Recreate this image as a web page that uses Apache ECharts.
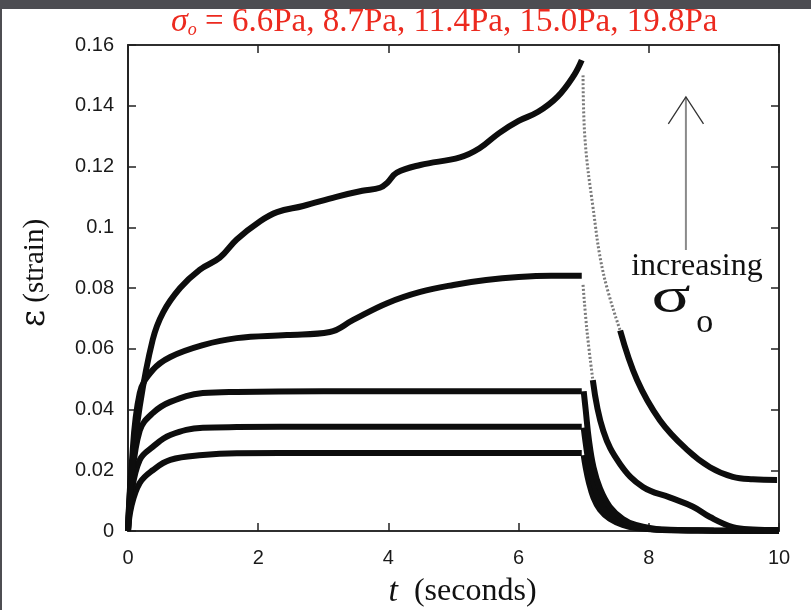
<!DOCTYPE html>
<html><head><meta charset="utf-8">
<script src="https://cdn.jsdelivr.net/npm/echarts@6/dist/echarts.min.js"></script>
<style>html,body{margin:0;padding:0;background:#fff;}#c{width:811px;height:610px;}</style>
</head><body><div id="c"></div>
<script>
// ---- data ----
const xTicks = [0, 2, 4, 6, 8, 10];
const yTicks = [0, 0.02, 0.04, 0.06, 0.08, 0.1, 0.12, 0.14, 0.16];
const stressLabels = ['6.6Pa', '8.7Pa', '11.4Pa', '15.0Pa', '19.8Pa'];

// creep phase (0 - 7 s)
const tCreep5 = [0,0.05,0.18,0.38,0.54,0.8,1.1,1.41,1.67,2.03,2.29,2.69,3.2,3.6,3.87,3.98,4.13,4.49,5.1,5.4,5.7,6.0,6.3,6.6,6.85,6.97];
const eCreep5 = [0,0.018,0.041,0.063,0.072,0.080,0.086,0.090,0.096,0.102,0.105,0.107,0.110,0.112,0.113,0.1146,0.118,0.1205,0.123,0.126,0.131,0.135,0.138,0.143,0.150,0.155];
const tCreep4 = [0,0.05,0.18,0.38,0.65,1.15,1.67,2.44,3.1,3.46,3.98,4.49,5.0,5.5,6.0,6.5,6.97];
const eCreep4 = [0,0.02,0.0454,0.053,0.0573,0.0612,0.0635,0.0645,0.0655,0.0695,0.075,0.0787,0.081,0.0826,0.0836,0.084,0.084];
const tCreepLow = [0,0.05,0.18,0.38,0.65,1.15,1.67,3,5,6.97];
const eCreep3 = [0,0.015,0.033,0.0388,0.0425,0.0454,0.0458,0.046,0.046,0.046];
const eCreep2 = [0,0.012,0.0234,0.0277,0.0316,0.034,0.0342,0.0343,0.0343,0.0343];
const eCreep1 = [0,0.008,0.0158,0.020,0.0234,0.025,0.0256,0.0257,0.0257,0.0257];

// recovery phase (7 - 10 s)
const tRecFast5 = [6.99,7.02,7.14,7.3,7.56];
const eRecFast5 = [0.150,0.129,0.107,0.085,0.066];
const tRec5 = [7.56,7.82,8.17,8.59,8.94,9.29,9.6,9.97];
const eRec5 = [0.066,0.0497,0.0365,0.0267,0.021,0.0178,0.017,0.0168];
const tRecFast4 = [6.99,7.05,7.14];
const eRecFast4 = [0.081,0.066,0.0497];
const tRec4 = [7.14,7.3,7.56,7.91,8.33,8.68,8.94,9.29,9.6,10];
const eRec4 = [0.0497,0.033,0.022,0.0145,0.011,0.008,0.0046,0.0013,0.0005,0.0003];
const tRecLow = [7.0,7.03,7.08,7.15,7.25,7.4,7.6,7.8,8.2,9,10];
const eRec3 = [0.046,0.040,0.030,0.021,0.014,0.008,0.004,0.002,0.0005,0.0002,0];
const eRec2 = [0.034,0.029,0.022,0.016,0.010,0.006,0.003,0.0015,0.0003,0.0001,0];
const eRec1 = [0.025,0.021,0.016,0.011,0.007,0.004,0.002,0.001,0.0004,0.0001,0];

// ---- build ----
const zip = (a, b) => a.map((v, i) => [v, b[i]]);
const solid = (t, e) => ({
  type: 'line', data: zip(t, e), smooth: 0.4, showSymbol: false, clip: false,
  lineStyle: { color: '#0d0d0d', width: 6 }, silent: true, z: 3
});
const dotted = (t, e) => ({
  type: 'line', data: zip(t, e), smooth: 0.4, showSymbol: false, clip: false,
  lineStyle: { color: '#7a7a7a', width: 3, type: [2, 2] }, silent: true, z: 3
});

const serif = '"Liberation Serif","Times New Roman",serif';
const sans = '"Liberation Sans",Arial,Helvetica,sans-serif';
const ink = '#222';

function axisBase(extra) {
  return Object.assign({
    type: 'value',
    axisLine: { show: true, onZero: false, lineStyle: { color: ink, width: 1.5 } },
    axisTick: { show: true, inside: true, length: 8, lineStyle: { color: ink, width: 1.5 } },
    splitLine: { show: false }
  }, extra);
}

const chart = echarts.init(document.getElementById('c'), null, { renderer: 'canvas' });
chart.setOption({
  backgroundColor: '#ffffff',
  animation: false,
  title: {
    text: '{s|σ}{o|o}{n| = ' + stressLabels.join(', ') + '}',
    left: 166, top: 0,
    textStyle: {
      fontWeight: 'normal',
      rich: {
        s: { fontFamily: serif, fontStyle: 'italic', fontWeight: 'normal', fontSize: 34, color: '#ec2a1f' },
        o: { fontFamily: serif, fontStyle: 'italic', fontWeight: 'normal', fontSize: 18, color: '#ec2a1f', padding: [16, 0, 0, 0] },
        n: { fontFamily: serif, fontWeight: 'normal', fontSize: 33, color: '#ec2a1f' }
      }
    }
  },
  grid: { left: 128, right: 32, top: 45, bottom: 79, containLabel: false, outerBoundsMode: 'none',
          show: true, borderColor: ink, borderWidth: 1.5, backgroundColor: 'transparent' },
  xAxis: [
    axisBase({
      min: 0, max: 10, interval: 2, position: 'bottom',
      axisLabel: { fontFamily: sans, fontSize: 20, color: '#1a1a1a', margin: 17 },
      name: '{t|t}{s|  (seconds)}', nameLocation: 'middle', nameGap: 44,
      nameTextStyle: { padding: [0, 0, 0, 18], rich: {
        t: { fontFamily: serif, fontStyle: 'italic', fontSize: 34, color: '#111' },
        s: { fontFamily: serif, fontSize: 32, color: '#111' }
      } }
    }),
    axisBase({ min: 0, max: 10, interval: 2, position: 'top', axisLabel: { show: false } })
  ],
  yAxis: [
    axisBase({
      min: 0, max: 0.16, interval: 0.02, position: 'left',
      axisTick: { show: false },
      axisLabel: { fontFamily: sans, fontSize: 20, color: '#1a1a1a', margin: 14,
        formatter: v => String(+v.toFixed(2)) },
      name: '{e|ε}{s| (strain)}', nameLocation: 'middle', nameGap: 76, nameRotate: 90,
      nameTextStyle: { padding: [0, 0, 0, 30], rich: {
        e: { fontFamily: '"DejaVu Serif",serif', fontSize: 33, color: '#111' },
        s: { fontFamily: serif, fontSize: 29, color: '#111' }
      } }
    }),
    axisBase({ min: 0, max: 0.16, interval: 0.02, position: 'right', axisLabel: { show: false } }),
    axisBase({ min: 0, max: 0.16, interval: 0.02, position: 'left', offset: 0, axisLabel: { show: false },
      axisTick: { show: true, inside: false, length: -8, lineStyle: { color: ink, width: 1.5 } } })
  ],
  series: [
    solid(tCreepLow, eCreep1), solid(tCreepLow, eCreep2), solid(tCreepLow, eCreep3),
    solid(tCreep4, eCreep4), solid(tCreep5, eCreep5),
    solid(tRecLow, eRec1), solid(tRecLow, eRec2), solid(tRecLow, eRec3),
    dotted(tRecFast4, eRecFast4), solid(tRec4, eRec4),
    dotted(tRecFast5, eRecFast5), solid(tRec5, eRec5)
  ]
});

// annotations placed through the chart's coordinate system
const P = (t, e) => chart.convertToPixel({ xAxisIndex: 0, yAxisIndex: 0 }, [t, e]);
const aTop = P(8.57, 0.1429), aBot = P(8.57, 0.0925);
const hL = P(8.3, 0.134), hR = P(8.84, 0.134);
const txt = P(8.74, 0.0869), sig = P(8.34, 0.0765), sub = P(8.86, 0.0685);
chart.setOption({
  graphic: [
    { type: 'rect', shape: { x: 0, y: 0, width: 811, height: 9 }, style: { fill: '#4d4d52' }, z: 100 },
    { type: 'rect', shape: { x: 0, y: 0, width: 2, height: 610 }, style: { fill: '#4d4d52' }, z: 100 },
    { type: 'line', shape: { x1: aTop[0], y1: aTop[1], x2: aBot[0], y2: aBot[1] }, style: { stroke: '#8a8a8a', lineWidth: 2 }, z: 50 },
    { type: 'polyline', shape: { points: [hL, aTop, hR] }, style: { stroke: '#333', lineWidth: 1.3, fill: null }, z: 50 },
    { type: 'text', x: txt[0], y: txt[1], style: { text: 'increasing', font: '32px ' + serif, fill: '#111', align: 'center', verticalAlign: 'middle' }, z: 50 },
    { type: 'text', x: sig[0], y: sig[1], scaleX: 1.45, originX: 0, originY: 0,
      style: { text: 'σ', font: '50px ' + serif, fill: '#111', align: 'center', verticalAlign: 'middle' }, z: 50 },
    { type: 'text', x: sub[0], y: sub[1],
      style: { text: 'o', font: '34px ' + serif, fill: '#111', align: 'center', verticalAlign: 'middle' }, z: 50 }
  ]
});
</script></body></html>
